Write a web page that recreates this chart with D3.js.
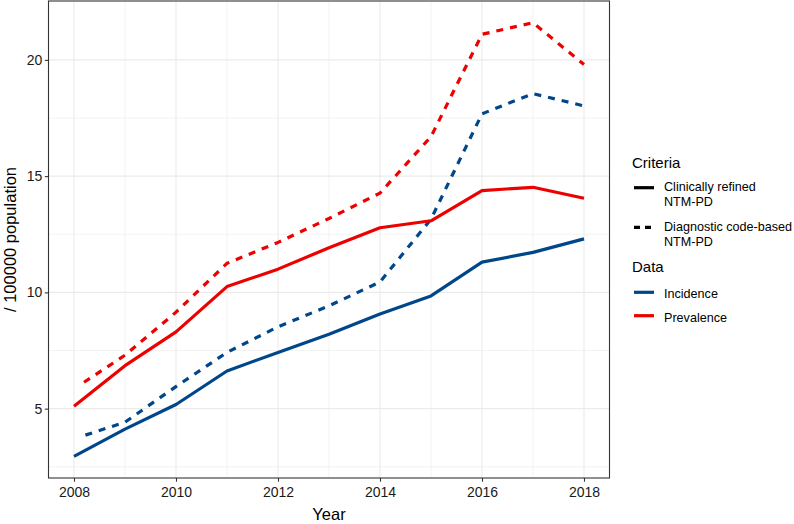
<!DOCTYPE html>
<html>
<head>
<meta charset="utf-8">
<script src="https://cdn.jsdelivr.net/npm/d3@7"></script>
<style>
  html, body { margin: 0; padding: 0; background: #fff; }
  svg { display: block; font-family: "Liberation Sans", Arial, Helvetica, sans-serif; }
</style>
</head>
<body>
<svg id="chart" width="794" height="524"></svg>
<script>
// ---- data ----
const years = [2008, 2009, 2010, 2011, 2012, 2013, 2014, 2015, 2016, 2017, 2018];
const incidenceClinical   = [2.95, 4.12, 5.18, 6.62, 7.42, 8.20, 9.07, 9.85, 11.30, 11.72, 12.30];
const incidenceDiagnostic = [3.70, 4.42, 5.95, 7.42, 8.52, 9.42, 10.45, 13.15, 17.68, 18.55, 18.02];
const prevalenceClinical  = [5.10, 6.85, 8.30, 10.25, 11.00, 11.92, 12.78, 13.08, 14.38, 14.52, 14.05];
const prevalenceDiagnostic= [5.85, 7.30, 9.15, 11.25, 12.15, 13.18, 14.27, 16.70, 21.10, 21.60, 19.80];

const xTicks = [2008, 2010, 2012, 2014, 2016, 2018];
const xMinorTicks = [2009, 2011, 2013, 2015, 2017];
const yTicks = [5, 10, 15, 20];
const yMinorTicks = [2.5, 7.5, 12.5, 17.5];

const criteriaLabels = [["Clinically refined", "NTM-PD"], ["Diagnostic code-based", "NTM-PD"]];
const dataLabels = ["Incidence", "Prevalence"];

const xTitle = "Year";
const yTitle = "/ 100000 population";

// ---- styles ----
const blue = "#00468B", red = "#ED0000";
const lw = 3.2;
const panel = { left: 48.5, right: 609.5, top: 1, bottom: 478 };

const series = [
  { values: incidenceClinical,    color: blue, dashed: false },
  { values: incidenceDiagnostic,  color: blue, dashed: true },
  { values: prevalenceClinical,   color: red,  dashed: false },
  { values: prevalenceDiagnostic, color: red,  dashed: true }
];

const svg = d3.select("#chart");

// scales with ggplot-like 5% expansion
const xr = d3.extent(years);
const xe = (xr[1] - xr[0]) * 0.05;
const x = d3.scaleLinear().domain([xr[0] - xe, xr[1] + xe]).range([panel.left, panel.right]);
const allY = series.flatMap(s => s.values);
const yr = d3.extent(allY);
const ye = (yr[1] - yr[0]) * 0.05;
const y = d3.scaleLinear().domain([yr[0] - ye, yr[1] + ye]).range([panel.bottom, panel.top]);

const g = svg.append("g");

// grid
g.selectAll(".ymin").data(yMinorTicks).join("line")
  .attr("x1", panel.left).attr("x2", panel.right)
  .attr("y1", d => y(d)).attr("y2", d => y(d))
  .attr("stroke", "#EBEBEB").attr("stroke-width", 0.6);
g.selectAll(".xmin").data(xMinorTicks).join("line")
  .attr("y1", panel.top).attr("y2", panel.bottom)
  .attr("x1", d => x(d)).attr("x2", d => x(d))
  .attr("stroke", "#EBEBEB").attr("stroke-width", 0.6);
g.selectAll(".ymaj").data(yTicks).join("line")
  .attr("x1", panel.left).attr("x2", panel.right)
  .attr("y1", d => y(d)).attr("y2", d => y(d))
  .attr("stroke", "#EBEBEB").attr("stroke-width", 1.1);
g.selectAll(".xmaj").data(xTicks).join("line")
  .attr("y1", panel.top).attr("y2", panel.bottom)
  .attr("x1", d => x(d)).attr("x2", d => x(d))
  .attr("stroke", "#EBEBEB").attr("stroke-width", 1.1);

// lines
const line = d3.line().x((d, i) => x(years[i])).y(d => y(d));
function dashPattern(startGap, on, off, n) {
  const arr = [0, startGap];
  for (let i = 0; i < n; i++) { arr.push(on, off); }
  return arr.join(",");
}
series.forEach(s => {
  g.append("path")
    .datum(s.values)
    .attr("d", line)
    .attr("fill", "none")
    .attr("stroke", s.color)
    .attr("stroke-width", lw)
    .attr("stroke-linejoin", "round")
    .attr("stroke-linecap", "butt")
    .attr("stroke-dasharray", s.dashed ? dashPattern(12, 7, 7, 80) : null);
});

// panel border
g.append("rect")
  .attr("x", panel.left).attr("y", panel.top)
  .attr("width", panel.right - panel.left).attr("height", panel.bottom - panel.top)
  .attr("fill", "none").attr("stroke", "#333333").attr("stroke-width", 1.1);

// axes
const xAxis = d3.axisBottom(x).tickValues(xTicks).tickSize(3.7).tickPadding(5).tickFormat(d3.format("d"));
const yAxis = d3.axisLeft(y).tickValues(yTicks).tickSize(3.7).tickPadding(2.5).tickFormat(d3.format("d"));

const gx = svg.append("g").attr("transform", `translate(0,${panel.bottom})`).call(xAxis);
const gy = svg.append("g").attr("transform", `translate(${panel.left},0)`).call(yAxis);
[gx, gy].forEach(a => {
  a.select(".domain").remove();
  a.selectAll(".tick line").attr("stroke", "#333333").attr("stroke-width", 1.1);
  a.selectAll(".tick text").attr("fill", "#1a1a1a").style("font-size", "14px")
    .style("font-family", '"Liberation Sans", Arial, sans-serif');
});

// axis titles
svg.append("text").attr("x", (panel.left + panel.right) / 2).attr("y", 519.5)
  .attr("text-anchor", "middle").style("font-size", "16.5px").attr("fill", "#000").text(xTitle);
svg.append("text")
  .attr("transform", `translate(16,${(panel.top + panel.bottom) / 2}) rotate(-90)`)
  .attr("text-anchor", "middle").style("font-size", "16.5px").attr("fill", "#000").text(yTitle);

// legend
const lg = svg.append("g");
const keyX1 = 634, keyX2 = 654, textX = 664;
lg.append("text").attr("x", 632).attr("y", 168).style("font-size", "15px").attr("fill", "#000").text("Criteria");
const critY = [187.7, 227.3];
criteriaLabels.forEach((lbl, i) => {
  lg.append("line").attr("x1", keyX1).attr("x2", keyX2).attr("y1", critY[i]).attr("y2", critY[i])
    .attr("stroke", "#000").attr("stroke-width", lw)
    .attr("stroke-dasharray", i === 1 ? "6,5" : null);
  const t = lg.append("text").attr("x", textX).attr("y", critY[i] + 3.5)
    .style("font-size", "12.6px").attr("fill", "#000");
  lbl.forEach((s, j) => t.append("tspan").attr("x", textX).attr("dy", j === 0 ? 0 : 15).text(s));
});
lg.append("text").attr("x", 632).attr("y", 272).style("font-size", "15px").attr("fill", "#000").text("Data");
const dataY = [292.3, 315.7];
const dataColors = [blue, red];
dataLabels.forEach((lbl, i) => {
  lg.append("line").attr("x1", keyX1).attr("x2", keyX2).attr("y1", dataY[i]).attr("y2", dataY[i])
    .attr("stroke", dataColors[i]).attr("stroke-width", lw);
  lg.append("text").attr("x", textX).attr("y", dataY[i] + 6)
    .style("font-size", "12.6px").attr("fill", "#000").text(lbl);
});
</script>
</body>
</html>
